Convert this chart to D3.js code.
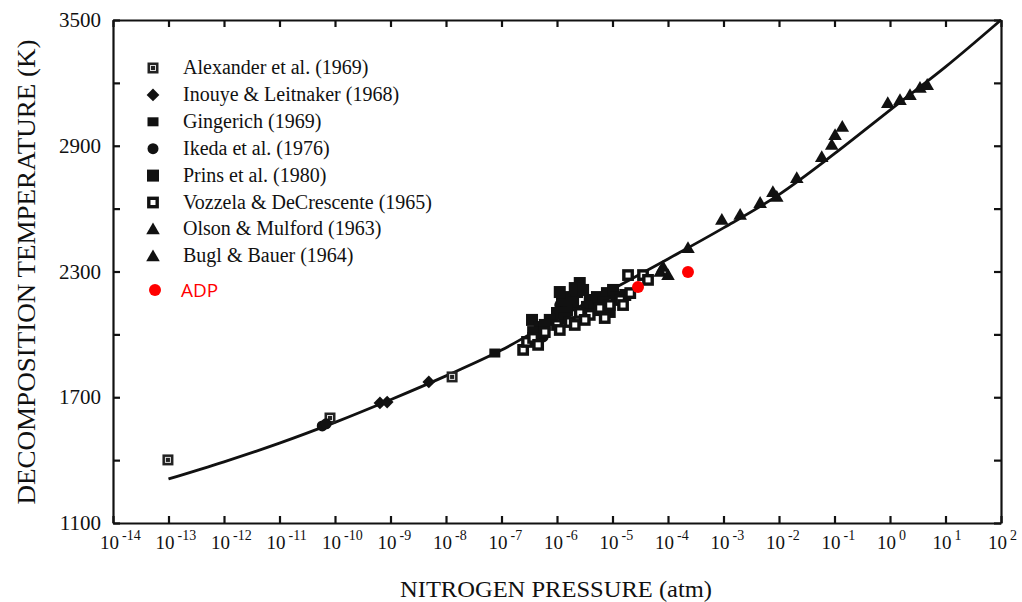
<!DOCTYPE html>
<html>
<head>
<meta charset="utf-8">
<script src="https://cdn.jsdelivr.net/npm/d3@7"></script>
<style>
  body { margin: 0; background: #fff; }
  svg { display: block; background: #fff; }
  text { font-family: "Liberation Serif", "Times New Roman", serif; fill: #111; }
</style>
</head>
<body>
<div id="chart"></div>
<script>
const WIDTH = 1022;
const HEIGHT = 602;
const FRAME = { LEFT: 113, RIGHT: 1001, TOP: 20, BOTTOM: 523 };

// decades on the x axis (powers of ten, atm)
const X_EXPONENTS = [-14, -13, -12, -11, -10, -9, -8, -7, -6, -5, -4, -3, -2, -1, 0, 1, 2];
const Y_TICKS = [1100, 1400, 1700, 2000, 2300, 2600, 2900, 3200, 3500];
const Y_LABELS = [1100, 1700, 2300, 2900, 3500];

// the drawn curve: [log10 p, T]
const CURVE = [[-13, 1310], [-12, 1392], [-11, 1481], [-10, 1580], [-9, 1688], [-8, 1802],
  [-7, 1925], [-6, 2075], [-5, 2215], [-4, 2360], [-3, 2508], [-2, 2667], [-1, 2862],
  [0, 3070], [1, 3276], [2, 3500]];

// measurements: [log10 p, T]
const ALEXANDER = [[-13.01, 1401], [-10.09, 1601], [-7.89, 1797]];
const INOUYE = [[-9.19, 1673], [-9.06, 1677], [-8.31, 1773]];
const GINGERICH = [[-7.12, 1911]];
const IKEDA = [[-10.23, 1563], [-10.16, 1573], [-6.25, 1988], [-6.36, 1959], [-5.95, 2140]];
const PRINS = [[-6.45, 2069], [-5.59, 2245], [-5.77, 2178], [-5.64, 2202], [-5.71, 2150],
  [-5.82, 2116], [-5.41, 2164], [-5.28, 2178], [-5.10, 2197], [-4.99, 2212], [-5.46, 2131],
  [-5.17, 2150], [-4.92, 2178], [-6.0, 2102], [-6.13, 2069], [-6.31, 2035], [-6.43, 2011],
  [-5.91, 2164], [-5.68, 2221], [-5.53, 2212], [-5.86, 2078], [-5.32, 2116], [-5.05, 2107],
  [-6.22, 2045], [-4.77, 2188], [-5.95, 2202]];
const VOZZELA = [[-6.61, 1926], [-6.54, 1964], [-6.43, 1983], [-6.22, 2011], [-6.0, 2045],
  [-5.77, 2059], [-5.59, 2102], [-5.41, 2093], [-5.23, 2126], [-5.05, 2140], [-4.86, 2164],
  [-4.81, 2140], [-4.68, 2197], [-4.72, 2283], [-4.45, 2283], [-4.36, 2260], [-5.5, 2069],
  [-5.14, 2078], [-5.95, 2021], [-5.68, 2045], [-6.34, 1950]];
const OLSON = [[-4.14, 2298], [-4.0, 2283], [-4.09, 2322], [-3.64, 2412], [-3.03, 2546],
  [-2.70, 2570], [-2.34, 2627], [-2.11, 2679], [-2.04, 2656], [-1.68, 2746], [-1.23, 2846],
  [-1.05, 2904], [-0.99, 2951], [-0.86, 2990]];
const BUGL = [[-0.04, 3104], [0.18, 3118], [0.36, 3142], [0.54, 3176], [0.67, 3190]];
const ADP = [[-4.54, 2226], [-3.64, 2298]];

const LEGEND_NAMES = ['Alexander et al. (1969)', 'Inouye & Leitnaker (1968)', 'Gingerich (1969)',
  'Ikeda et al. (1976)', 'Prins et al. (1980)', 'Vozzela & DeCrescente (1965)',
  'Olson & Mulford (1963)', 'Bugl & Bauer (1964)'];
const LEGEND_MARKERS = ['dotsq', 'diamond', 'smallsq', 'circle', 'bigsq', 'opensq', 'triangle', 'triangle'];

const svg = d3.select('#chart')
              .append('svg')
                .attr('width', WIDTH)
                .attr('height', HEIGHT);

const xscale = d3.scaleLog()
                 .domain([1e-14, 1e2])
                 .range([FRAME.LEFT, FRAME.RIGHT]);
const yscale = d3.scaleLinear()
                 .domain([1100, 3500])
                 .range([FRAME.BOTTOM, FRAME.TOP]);

const px = e => xscale(Math.pow(10, e));

// axes, ticks point into the plot on all four sides
const xTickValues = X_EXPONENTS.map(e => Math.pow(10, e));

svg.append('g')
    .attr('transform', `translate(0, ${FRAME.BOTTOM})`)
    .call(d3.axisBottom(xscale).tickValues(xTickValues).tickFormat(() => '')
            .tickSizeInner(-7).tickSizeOuter(0));
svg.append('g')
    .attr('transform', `translate(0, ${FRAME.TOP})`)
    .call(d3.axisTop(xscale).tickValues(xTickValues).tickFormat(() => '')
            .tickSizeInner(-7).tickSizeOuter(0));
svg.append('g')
    .attr('transform', `translate(${FRAME.LEFT}, 0)`)
    .call(d3.axisLeft(yscale).tickValues(Y_TICKS)
            .tickFormat(d => Y_LABELS.includes(d) ? d : '')
            .tickSizeInner(-7).tickSizeOuter(0).tickPadding(12));
svg.append('g')
    .attr('transform', `translate(${FRAME.RIGHT}, 0)`)
    .call(d3.axisRight(yscale).tickValues(Y_TICKS).tickFormat(() => '')
            .tickSizeInner(-7).tickSizeOuter(0));

svg.selectAll('.domain, .tick line')
    .attr('stroke', '#111')
    .attr('stroke-width', 2.2);

svg.selectAll('.tick text')
    .style('font-family', '"Liberation Serif", serif')
    .style('font-size', '21px')
    .attr('fill', '#111');

// 10^n labels
const xLabels = svg.append('g')
  .selectAll('text')
  .data(X_EXPONENTS)
  .enter()
  .append('text')
    .attr('x', d => px(d) - 13)
    .attr('y', 549)
    .style('font-size', '19px');
xLabels.append('tspan').text('10');
xLabels.append('tspan')
    .attr('dx', 3)
    .attr('dy', -9)
    .style('font-size', '14px')
    .text(d => d);

// axis titles
svg.append('text')
    .attr('x', 556)
    .attr('y', 597)
    .attr('text-anchor', 'middle')
    .attr('textLength', 312)
    .attr('lengthAdjust', 'spacingAndGlyphs')
    .style('font-size', '23px')
    .text('NITROGEN PRESSURE (atm)');

svg.append('text')
    .attr('transform', 'translate(35, 272) rotate(-90)')
    .attr('text-anchor', 'middle')
    .attr('textLength', 465)
    .attr('lengthAdjust', 'spacingAndGlyphs')
    .style('font-size', '25px')
    .text('DECOMPOSITION TEMPERATURE (K)');

// curve
const line = d3.line()
               .x(d => px(d[0]))
               .y(d => yscale(d[1]))
               .curve(d3.curveMonotoneX);

svg.append('path')
    .datum(CURVE)
    .attr('d', line)
    .attr('fill', 'none')
    .attr('stroke', '#111')
    .attr('stroke-width', 2.8);

const tri = d3.symbol().type(d3.symbolTriangle).size(80);

function marker(g, type, x, y) {
  if (type == 'dotsq') {
    g.append('rect').attr('x', x - 5.5).attr('y', y - 5.5).attr('width', 11).attr('height', 11)
      .attr('fill', '#222');
    g.append('rect').attr('x', x - 2.5).attr('y', y - 2.5).attr('width', 5).attr('height', 5)
      .attr('fill', 'none').attr('stroke', '#ddd').attr('stroke-width', 1);
  }
  if (type == 'diamond') {
    g.append('rect').attr('x', -4.5).attr('y', -4.5).attr('width', 9).attr('height', 9)
      .attr('transform', `translate(${x}, ${y}) rotate(45)`).attr('fill', '#111');
  }
  if (type == 'smallsq') {
    g.append('rect').attr('x', x - 5.5).attr('y', y - 4.5).attr('width', 11).attr('height', 9)
      .attr('fill', '#111');
  }
  if (type == 'circle') {
    g.append('circle').attr('cx', x).attr('cy', y).attr('r', 5.5).attr('fill', '#111');
  }
  if (type == 'bigsq') {
    g.append('rect').attr('x', x - 6).attr('y', y - 6).attr('width', 12).attr('height', 12)
      .attr('fill', '#111');
  }
  if (type == 'opensq') {
    g.append('rect').attr('x', x - 4.2).attr('y', y - 4.2).attr('width', 8.4).attr('height', 8.4)
      .attr('fill', '#fff').attr('stroke', '#111').attr('stroke-width', 3.4);
  }
  if (type == 'triangle') {
    g.append('path').attr('d', tri).attr('transform', `translate(${x}, ${y + 1})`).attr('fill', '#111');
  }
  if (type == 'red') {
    g.append('circle').attr('cx', x).attr('cy', y).attr('r', 6).attr('fill', '#f00');
  }
}

const points = svg.append('g');
const SERIES = [[ALEXANDER, 'dotsq'], [INOUYE, 'diamond'], [GINGERICH, 'smallsq'], [IKEDA, 'circle'],
  [PRINS, 'bigsq'], [VOZZELA, 'opensq'], [OLSON, 'triangle'], [BUGL, 'triangle'], [ADP, 'red']];

SERIES.forEach(s => {
  s[0].forEach(d => marker(points, s[1], px(d[0]), yscale(d[1])));
});

// legend
const legend = svg.append('g');
LEGEND_NAMES.forEach((name, i) => {
  const y = 68 + i * 26.9;
  marker(legend, LEGEND_MARKERS[i], 153, y);
  legend.append('text')
      .attr('x', 183)
      .attr('y', y + 6)
      .style('font-size', '20px')
      .text(name);
});
marker(legend, 'red', 155, 290);
legend.append('text')
    .attr('x', 181)
    .attr('y', 297)
    .style('font-family', '"Open Sans", sans-serif')
    .style('font-size', '19px')
    .style('fill', '#f00')
    .text('ADP');
</script>
</body>
</html>
